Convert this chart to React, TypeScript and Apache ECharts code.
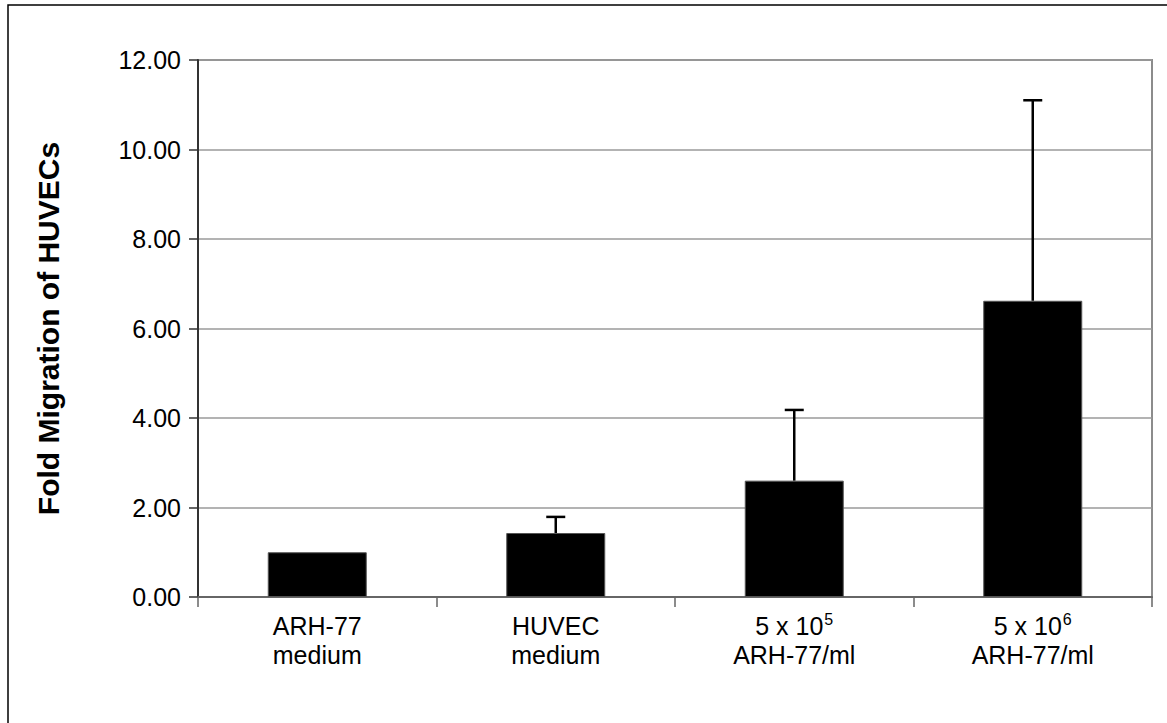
import React, { useEffect, useRef } from "react";
import * as echarts from "echarts";

// Fold migration of HUVECs per condition, with upper error bars
const categoryTop = ["ARH-77", "HUVEC", "5 x 10", "5 x 10"];
const categoryBottom = ["medium", "medium", "ARH-77/ml", "ARH-77/ml"];
const categoryExponent = ["", "", "5", "6"];
const foldMigration = [1.0, 1.43, 2.6, 6.62];
const errorUpper = [0, 0.36, 1.58, 4.48];
const yTicks = [0, 2, 4, 6, 8, 10, 12];

const FONT = "'Liberation Sans', Arial, sans-serif";

export default function App() {
  const ref = useRef<HTMLDivElement>(null);

  useEffect(() => {
    document.body.style.margin = "0";
    if (!ref.current) return;
    const chart = echarts.init(ref.current, null, { renderer: "svg" });

    const categories = categoryTop.map((t, i) => `${t}|${i}`);

    chart.setOption({
      animation: false,
      backgroundColor: "#ffffff",
      textStyle: { fontFamily: FONT },
      graphic: [
        {
          type: "rect",
          shape: { x: 8, y: 5, width: 1300, height: 1000 },
          style: { fill: "none", stroke: "#000", lineWidth: 1.5 },
          silent: true,
        },
      ],
      grid: {
        left: 198,
        right: 15,
        top: 60,
        bottom: 126,
        show: true,
        borderColor: "#8c8c8c",
        borderWidth: 2,
        backgroundColor: "transparent",
      },
      xAxis: {
        type: "category",
        data: categories,
        axisLine: { lineStyle: { color: "#666", width: 2 } },
        axisTick: { show: true, alignWithLabel: false, length: 10, lineStyle: { color: "#666", width: 1.5 } },
        axisLabel: {
          margin: 14,
          interval: 0,
          formatter: (v: string) => {
            const i = Number(v.split("|")[1]);
            const exp = categoryExponent[i];
            const first = exp ? `{n|${categoryTop[i]}}{sup|${exp}}` : `{n|${categoryTop[i]}}`;
            return `${first}\n{n|${categoryBottom[i]}}`;
          },
          rich: {
            n: { fontSize: 25, fontFamily: FONT, color: "#000", lineHeight: 29 },
            sup: { fontSize: 16, fontFamily: FONT, color: "#000", lineHeight: 29, verticalAlign: "top", padding: [0, 0, 4, 1] },
          },
        },
      },
      yAxis: {
        type: "value",
        min: yTicks[0],
        max: yTicks[yTicks.length - 1],
        interval: 2,
        name: "Fold Migration of HUVECs",
        nameLocation: "middle",
        nameRotate: 90,
        nameGap: 135,
        nameTextStyle: { fontSize: 30, fontWeight: "bold", fontFamily: FONT, color: "#000" },
        axisLine: { show: true, lineStyle: { color: "#333", width: 2 } },
        axisTick: { show: true, inside: false, length: 9, lineStyle: { color: "#333", width: 1.5 } },
        axisLabel: {
          margin: 17,
          fontSize: 25,
          fontFamily: FONT,
          color: "#000",
          formatter: (v: number) => v.toFixed(2),
        },
        splitLine: { show: true, lineStyle: { color: "#9a9a9a", width: 1.5 } },
      },
      series: [
        {
          type: "bar",
          data: foldMigration,
          barWidth: 99,
          itemStyle: { color: "#000", borderColor: "#555", borderWidth: 1 },
          z: 2,
        },
        {
          type: "custom",
          z: 3,
          data: foldMigration.map((v, i) => [i, v, v + errorUpper[i]]),
          renderItem: (params: any, api: any) => {
            const idx = api.value(0);
            const lo = api.value(1);
            const hi = api.value(2);
            if (hi <= lo) return null;
            const p0 = api.coord([idx, lo]);
            const p1 = api.coord([idx, hi]);
            const half = 9.5;
            const style = { stroke: "#000", lineWidth: 2.5 };
            return {
              type: "group",
              children: [
                { type: "line", shape: { x1: p0[0], y1: p0[1], x2: p1[0], y2: p1[1] }, style },
                { type: "line", shape: { x1: p1[0] - half, y1: p1[1], x2: p1[0] + half, y2: p1[1] }, style },
              ],
            };
          },
        },
      ],
    });

    return () => chart.dispose();
  }, []);

  return <div ref={ref} style={{ width: 1167, height: 723 }} />;
}
